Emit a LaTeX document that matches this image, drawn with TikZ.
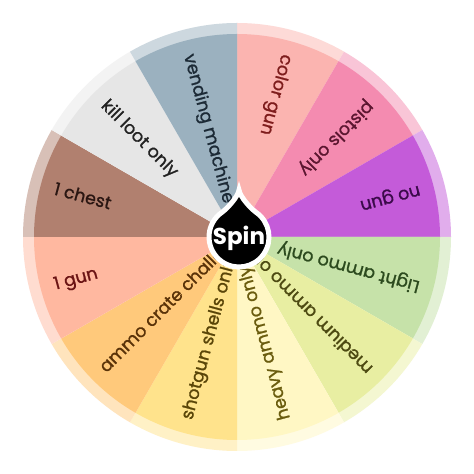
\documentclass[tikz,border=0pt]{standalone}
\usepackage{fontspec}
\setmainfont{Poppins}
\newfontfamily\wheelfont{Poppins}[FakeBold=1.2]
\usetikzlibrary{calc}
\definecolor{fA}{HTML}{FBB4B0}\definecolor{tA}{HTML}{7E1C1C}
\definecolor{fB}{HTML}{F48BB0}\definecolor{tB}{HTML}{5C1630}
\definecolor{fC}{HTML}{C45BD9}\definecolor{tC}{HTML}{3B0A4A}
\definecolor{fD}{HTML}{C6E2A9}\definecolor{tD}{HTML}{2C4A1E}
\definecolor{fE}{HTML}{E8EEA2}\definecolor{tE}{HTML}{4D4A12}
\definecolor{fF}{HTML}{FFF7C4}\definecolor{tF}{HTML}{6A5C0E}
\definecolor{fG}{HTML}{FFE38C}\definecolor{tG}{HTML}{5A4508}
\definecolor{fH}{HTML}{FFC97B}\definecolor{tH}{HTML}{5A3208}
\definecolor{fI}{HTML}{FFB8A0}\definecolor{tI}{HTML}{6B1414}
\definecolor{fJ}{HTML}{B1806F}\definecolor{tJ}{HTML}{2A1612}
\definecolor{fK}{HTML}{E6E6E6}\definecolor{tK}{HTML}{222222}
\definecolor{fL}{HTML}{9BB1BF}\definecolor{tL}{HTML}{1C2A36}
\tikzset{
  seglabel/.style={font=\wheelfont\fontsize{17.5}{18}\selectfont, inner sep=0pt, anchor=west},
  spinlabel/.style={font=\bfseries\fontsize{23}{23}\selectfont, text=white, inner sep=0pt}
}
\begin{document}
\begin{tikzpicture}[x=1pt,y=1pt]
\fill[white] (0,0) rectangle (474,474);
\useasboundingbox (0,0) rectangle (474,474);
\coordinate (C) at (237,237);
\foreach \a/\f/\t/\n/\lab in {
  60/fA/tA/colorgun/color gun,
  30/fB/tB/pistols/pistols only,
  0/fC/tC/nogun/no gun,
  -30/fD/tD/light/Light ammo only,
  -60/fE/tE/medium/medium ammo only,
  -90/fF/tF/heavy/heavy ammo only,
  -120/fG/tG/shotgun/shotgun shells only,
  -150/fH/tH/crate/ammo crate challenge,
  180/fI/tI/onegun/1 gun,
  150/fJ/tJ/chest/1 chest,
  120/fK/tK/killloot/kill loot only,
  90/fL/tL/vending/vending machine}{
  \fill[\f!50!white] (C) -- ++(\a:214) arc[start angle=\a, end angle={\a+30}, radius=214] -- cycle;
  \fill[\f] (C) -- ++(\a:203) arc[start angle=\a, end angle={\a+30}, radius=203] -- cycle;
  \begin{scope}
    \clip (C) -- ++(\a:203) arc[start angle=\a, end angle={\a+30}, radius=203] -- cycle;
    \node[seglabel, text=\t, rotate={\a+195}] (\n) at ($(C)+({\a+15}:189)$) {\lab};
  \end{scope}
}
\coordinate (H) at (239,237);
\coordinate (tip) at (239,284);
\filldraw[fill=black, draw=white, line width=5]
  (tip) .. controls (240,277) and (251.3,265) .. ($(H)+(55:30)$)
  arc[start angle=55, end angle=-235, radius=30]
  .. controls (226.7,265) and (238,277) .. (tip) -- cycle;
\node[spinlabel] (spin) at (239,236) {Spin};
\end{tikzpicture}
\end{document}
